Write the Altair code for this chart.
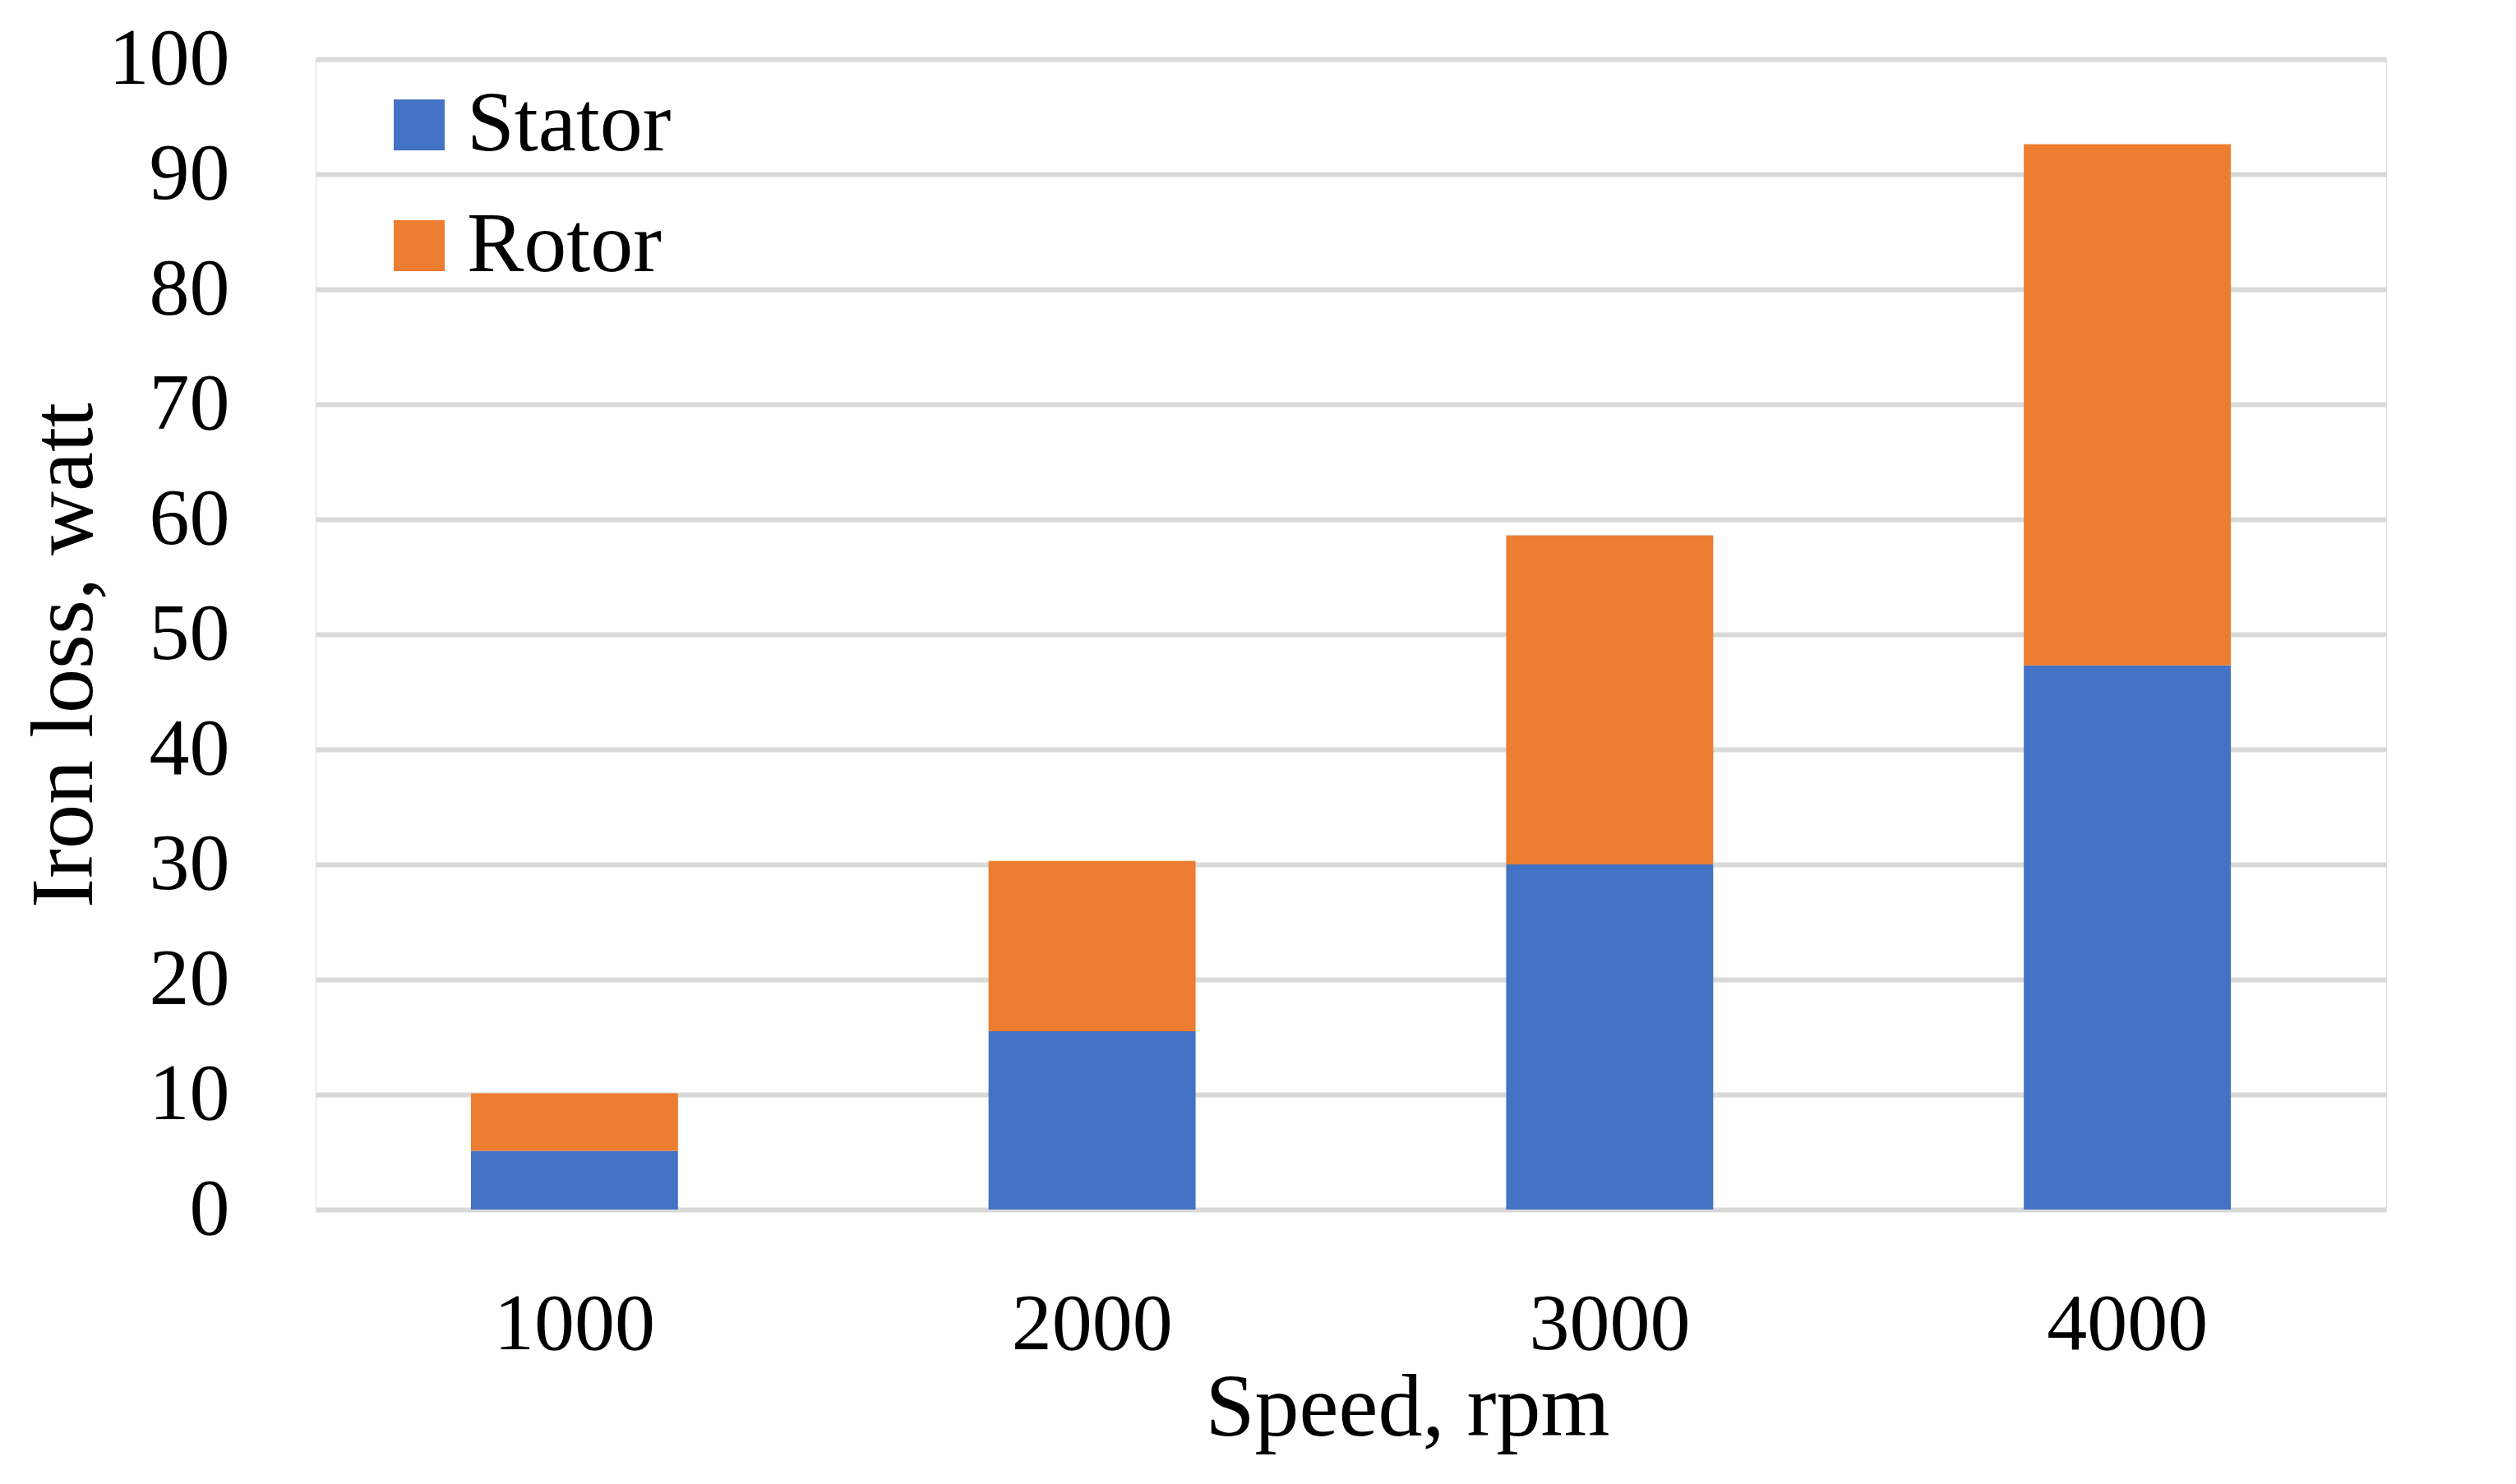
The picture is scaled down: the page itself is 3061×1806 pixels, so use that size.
import altair as alt
import pandas as pd

speeds = ["1000", "2000", "3000", "4000"]
stator = [5.1, 15.5, 30.0, 47.3]
rotor = [5.0, 14.8, 28.6, 45.3]
series = ["Stator", "Rotor"]
colors = ["#4472C4", "#ED7D31"]

rows = []
for i, s in enumerate(speeds):
    rows.append({"speed": s, "part": "Stator", "loss": stator[i], "idx": 0})
    rows.append({"speed": s, "part": "Rotor", "loss": rotor[i], "idx": 1})
df = pd.DataFrame(rows)

FONT = "Liberation Serif"

chart = alt.Chart(df).mark_bar().encode(
    x=alt.X("speed:N", sort=speeds,
            scale=alt.Scale(paddingInner=0.6, paddingOuter=0.3),
            axis=alt.Axis(title="Speed, rpm", labelAngle=0, ticks=False, domain=False,
                          grid=False, labelFontSize=98, titleFontSize=108, labelLimit=0,
                          labelPadding=92, titlePadding=0, titleFontWeight="normal",
                          titleX=1328,
                          labelFont=FONT, titleFont=FONT, labelColor="black", titleColor="black")),
    y=alt.Y("loss:Q", stack="zero",
            scale=alt.Scale(domain=[0, 100], nice=False),
            axis=alt.Axis(title="Iron loss, watt", values=list(range(0, 101, 10)),
                          ticks=False, domain=False, grid=True, gridColor="#D9D9D9",
                          gridWidth=6, labelFontSize=98, titleFontSize=108, labelLimit=0,
                          labelPadding=105, titlePadding=50, titleFontWeight="normal",
                          titleY=725,
                          labelFont=FONT, titleFont=FONT, labelColor="black", titleColor="black")),
    color=alt.Color("part:N", scale=alt.Scale(domain=series, range=colors),
                    legend=alt.Legend(title=None, orient="none", legendX=74, legendY=28,
                                      symbolType="square", symbolSize=3844,
                                      symbolStrokeWidth=0, labelFontSize=104,
                                      labelFont=FONT, labelColor="black", labelLimit=0,
                                      rowPadding=43, labelOffset=6)),
    order=alt.Order("idx:Q", sort="ascending"),
).properties(
    width=2519, height=1400,
    autosize=alt.AutoSizeParams(type="none"),
    padding={"left": 376, "top": 64, "right": 140, "bottom": 310},
).configure_view(stroke=None, strokeWidth=0).configure(background="white")

chart.save("out.html", embed_options={"renderer": "svg", "actions": False})
